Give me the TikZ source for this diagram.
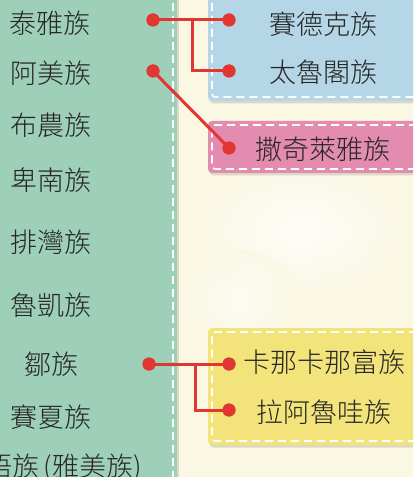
\documentclass[tikz,border=0pt]{standalone}
\usepackage{fontspec}
\newfontfamily\cjk{Noto Sans CJK TC}[UprightFont=* Light]
\definecolor{bgcream}{HTML}{FAF7E2}
\definecolor{panelgreen}{HTML}{9ECFB9}
\definecolor{boxblue}{HTML}{B4D6E6}
\definecolor{boxpink}{HTML}{E48CB0}
\definecolor{boxyellow}{HTML}{F2E47A}
\definecolor{linkred}{HTML}{E23632}
\definecolor{txt}{HTML}{262626}
\tikzset{
  lbl/.style={font=\cjk\fontsize{27bp}{30bp}\selectfont, text=txt, inner sep=0pt, anchor=center},
  dot/.style={circle, fill=linkred, minimum size=13bp, inner sep=0pt},
  link/.style={draw=linkred, line width=3bp},
  stitch/.style={draw=white, line width=1.6bp, dash pattern=on 8bp off 5bp},
  boxshadow/.style={fill=black, opacity=0.12, rounded corners=4bp},
}
\begin{document}
\begin{tikzpicture}[x=1bp,y=-1bp]
\useasboundingbox (0,0) rectangle (413,477);
\clip (0,0) rectangle (413,477);
% background
\fill[bgcream] (0,0) rectangle (413,477);
\shade[inner color=white, outer color=bgcream, opacity=0.8] (300,230) ellipse (110 and 70);
\shade[inner color=white, outer color=bgcream, opacity=0.6] (240,300) ellipse (60 and 50);
% green panel
\fill[black, opacity=0.12] (-20,-20) rectangle (179,500);
\fill[panelgreen] (-20,-20) rectangle (177,500);
\draw[stitch] (173,-10) -- (173,490);
% blue box
\fill[boxshadow] (209.5,-20) rectangle (440,103.5);
\fill[boxblue, rounded corners=4bp] (208,-20) rectangle (440,101);
\draw[stitch, rounded corners=3bp] (212,-10) -- (212,97) -- (430,97);
% pink box
\fill[boxshadow] (209.5,122.5) rectangle (440,175.5);
\fill[boxpink, rounded corners=4bp] (208,121) rectangle (440,173);
\draw[stitch, rounded corners=3bp] (430,125) -- (212,125) -- (212,169) -- (430,169);
% yellow box
\fill[boxshadow] (209.5,329.5) rectangle (440,447.5);
\fill[boxyellow, rounded corners=4bp] (208,328) rectangle (440,445);
\draw[stitch, rounded corners=3bp] (430,332) -- (212,332) -- (212,441) -- (430,441);
% left labels
\node[lbl] (tayal) at (50,23) {泰雅族};
\node[lbl] (amis) at (51,73) {阿美族};
\node[lbl] (bunun) at (51,125) {布農族};
\node[lbl] (puyuma) at (51,180) {卑南族};
\node[lbl] (paiwan) at (51,242) {排灣族};
\node[lbl] (rukai) at (51,305) {魯凱族};
\node[lbl] (tsou) at (51,364) {鄒族};
\node[lbl] (saisiyat) at (51,417) {賽夏族};
\node[lbl] (tao) at (50,468) {達悟族\,(雅美族)};
% right labels
\node[lbl] (seediq) at (323,24) {賽德克族};
\node[lbl] (truku) at (323,72) {太魯閣族};
\node[lbl] (sakizaya) at (323,149) {撒奇萊雅族};
\node[lbl] (kana) at (324,362) {卡那卡那富族};
\node[lbl] (hla) at (324,412) {拉阿魯哇族};
% dots
\node[dot] (dTayal) at (153,20) {};
\node[dot] (dAmis) at (153,71) {};
\node[dot] (dTsou) at (149,364) {};
\node[dot] (dSeediq) at (229,20) {};
\node[dot] (dTruku) at (229,71) {};
\node[dot] (dSakizaya) at (229,148) {};
\node[dot] (dKana) at (229,364) {};
\node[dot] (dHla) at (229,410) {};
\coordinate (bTayal) at (192,20);
\coordinate (bTsou) at (195,364);
% connectors
\draw[link] (dTayal.center) -- (dSeediq.center);
\draw[link] (bTayal) |- (dTruku.center);
\draw[link] (dAmis.center) -- (dSakizaya.center);
\draw[link] (dTsou.center) -- (dKana.center);
\draw[link] (bTsou) |- (dHla.center);
% redraw dots on top
\foreach \d in {dTayal,dAmis,dTsou,dSeediq,dTruku,dSakizaya,dKana,dHla}
  \fill[linkred] (\d.center) circle (6.5bp);
\end{tikzpicture}
\end{document}
